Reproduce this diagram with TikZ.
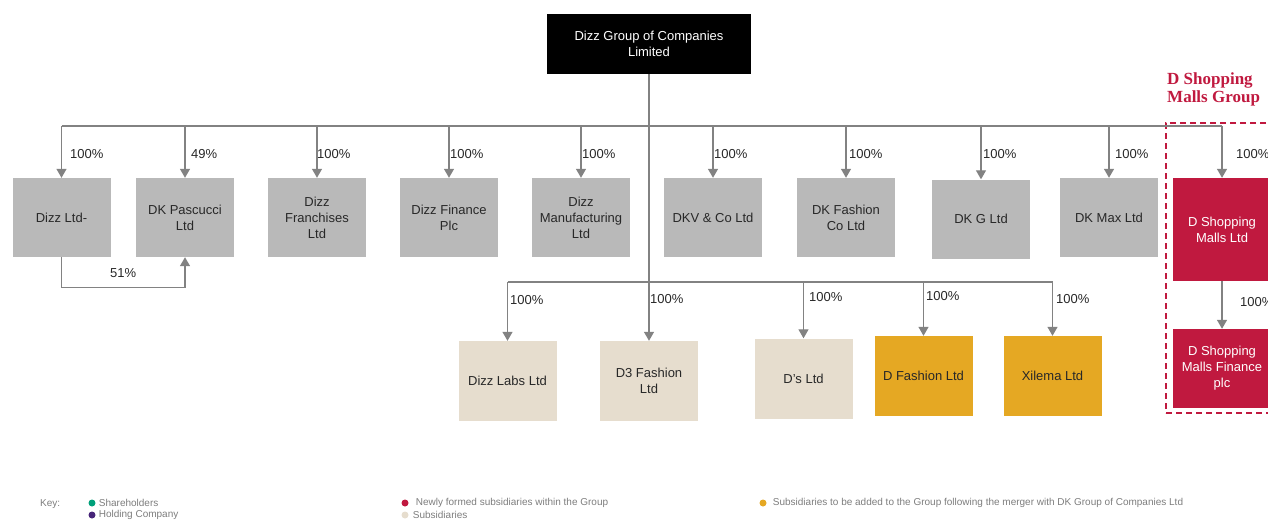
\documentclass[tikz,border=0pt]{standalone}
\usepackage{fontspec}
\setmainfont{Liberation Sans}
\newfontfamily\seriftitulo{Liberation Serif}
\usetikzlibrary{arrows.meta,positioning}
\definecolor{gris}{RGB}{185,185,185}
\definecolor{beige}{RGB}{230,221,206}
\definecolor{oro}{RGB}{229,168,35}
\definecolor{carmin}{RGB}{192,25,63}
\definecolor{linea}{RGB}{130,130,130}
\definecolor{texto}{RGB}{40,40,40}
\definecolor{clave}{RGB}{125,125,125}
\definecolor{verde}{RGB}{0,160,122}
\definecolor{morado}{RGB}{70,36,120}

\begin{document}
\begin{tikzpicture}[x=1pt,y=-1pt,%
         tipo/.style={rectangle,inner sep=2pt,minimum width=98pt,minimum height=79pt,
                      align=center,font=\fontsize{13}{16}\selectfont,text=texto},
         tipogris/.style={tipo,fill=gris},
         tipobeige/.style={tipo,fill=beige,minimum height=80pt},
         tipooro/.style={tipo,fill=oro,minimum height=80pt},
         tiporojo/.style={tipo,fill=carmin,text=white},
         tipopct/.style={anchor=west,inner sep=0pt,font=\fontsize{13}{16}\selectfont,text=texto},
         tipopunto/.style={circle,inner sep=0pt,minimum size=7pt},
         tipoclave/.style={anchor=west,inner sep=0pt,font=\fontsize{10}{12}\selectfont,text=clave},
         tipolinea/.style={draw=linea,line width=1.3pt},
         tiposeta/.style={tipolinea,-{Triangle[width=10pt,length=9pt]}}]
        \useasboundingbox (0,0) rectangle (1268,520);
        % grupo
        \node [tipo,fill=black,text=white,minimum width=204pt,minimum height=60pt] (holding) at (649,44) {Dizz Group of Companies\\Limited};
        % primera fila
        \node [tipogris] (dizzltd) at (61.5,217.5) {Dizz Ltd-};
        \node [tipogris] (pascucci) at (185,217.5) {DK Pascucci\\Ltd};
        \node [tipogris] (franquicias) at (317,217.5) {Dizz\\Franchises\\Ltd};
        \node [tipogris] (finanzas) at (449,217.5) {Dizz Finance\\Plc};
        \node [tipogris] (manufactura) at (581,217.5) {Dizz\\Manufacturing\\Ltd};
        \node [tipogris] (dkv) at (713,217.5) {DKV \& Co Ltd};
        \node [tipogris] (dkfashion) at (846,217.5) {DK Fashion\\Co Ltd};
        \node [tipogris] (dkg) at (981,219) {DK G Ltd};
        \node [tipogris] (dkmax) at (1109,217.5) {DK Max Ltd};
        \node [tiporojo,minimum height=103pt] (malls) at (1222,229.5) {D Shopping\\Malls Ltd};
        \node [tiporojo] (mallsfin) at (1222,368.5) {D Shopping\\Malls Finance\\plc};
        % segunda fila
        \node [tipobeige] (labs) at (507.5,381) {Dizz Labs Ltd};
        \node [tipobeige] (d3) at (649,381) {D3 Fashion\\Ltd};
        \node [tipobeige] (ds) at (803.5,378.5) {D’s Ltd};
        \node [tipooro] (dfashion) at (923.5,376) {D Fashion Ltd};
        \node [tipooro] (xilema) at (1052.5,376) {Xilema Ltd};
        % marco del grupo
        \node [draw=carmin,line width=1.5pt,dash pattern=on 6pt off 4pt,minimum width=110pt,minimum height=290pt] (grupo) at (1221,268) {};
        \node [anchor=north west,inner sep=0pt,align=left,text=carmin,
               font=\seriftitulo\bfseries\fontsize{17}{18}\selectfont] (titulo) at (1167,72) {D Shopping\\Malls Group};
        % conectores
        \coordinate (bus1) at (649,126);
        \coordinate (bus2) at (649,282);
        \draw [tipolinea] (holding.south) -- (bus2);
        \draw [tipolinea] (dizzltd.north |- bus1) -- (malls.north |- bus1);
        \draw [tipolinea] (labs.north |- bus2) -- (xilema.north |- bus2);
        \foreach \n in {dizzltd,pascucci,franquicias,finanzas,manufactura,dkv,dkfashion,dkg,dkmax,malls}
          \draw [tiposeta] (\n.north |- bus1) -- (\n.north);
        \foreach \n in {labs,d3,ds,dfashion,xilema}
          \draw [tiposeta] (\n.north |- bus2) -- (\n.north);
        \draw [tiposeta] (malls.south) -- (mallsfin.north);
        \draw [tiposeta] (dizzltd.south) -- ++(0,30) -| (pascucci.south);
        % porcentajes
        \node [tipopct] (pdizzltd) at (70,154) {100\%};
        \node [tipopct] (ppascucci) at (191,154) {49\%};
        \node [tipopct] (pfranquicias) at (317,154) {100\%};
        \node [tipopct] (pfinanzas) at (450,154) {100\%};
        \node [tipopct] (pmanufactura) at (582,154) {100\%};
        \node [tipopct] (pdkv) at (714,154) {100\%};
        \node [tipopct] (pdkfashion) at (849,154) {100\%};
        \node [tipopct] (pdkg) at (983,154) {100\%};
        \node [tipopct] (pdkmax) at (1115,154) {100\%};
        \node [tipopct] (pmalls) at (1236,154) {100\%};
        \node [tipopct] (pmallsfin) at (1240,302) {100\%};
        \node [tipopct] (pcruce) at (110,273) {51\%};
        \node [tipopct] (plabs) at (510,300) {100\%};
        \node [tipopct] (pd3) at (650,299) {100\%};
        \node [tipopct] (pds) at (809,297) {100\%};
        \node [tipopct] (pdfashion) at (926,296) {100\%};
        \node [tipopct] (pxilema) at (1056,299) {100\%};
        % clave
        \node [tipoclave] (clave) at (40,504) {Key:};
        \node [tipopunto,fill=verde] (pverde) at (92,503) {};
        \node [tipoclave,right=3pt of pverde] (tverde) {Shareholders};
        \node [tipopunto,fill=morado] (pmorado) at (92,515) {};
        \node [tipoclave,right=3pt of pmorado] (tmorado) {Holding Company};
        \node [tipopunto,fill=carmin] (projo) at (405,503) {};
        \node [tipoclave,right=7pt of projo] (trojo) {Newly formed subsidiaries within the Group};
        \node [tipopunto,fill=beige] (pbeige) at (405,515) {};
        \node [tipoclave,right=4pt of pbeige] (tbeige) {Subsidiaries};
        \node [tipopunto,fill=oro] (poro) at (763,503) {};
        \node [tipoclave,right=6pt of poro] (toro) {Subsidiaries to be added to the Group following the merger with DK Group of Companies Ltd};
      \end{tikzpicture}
\end{document}
